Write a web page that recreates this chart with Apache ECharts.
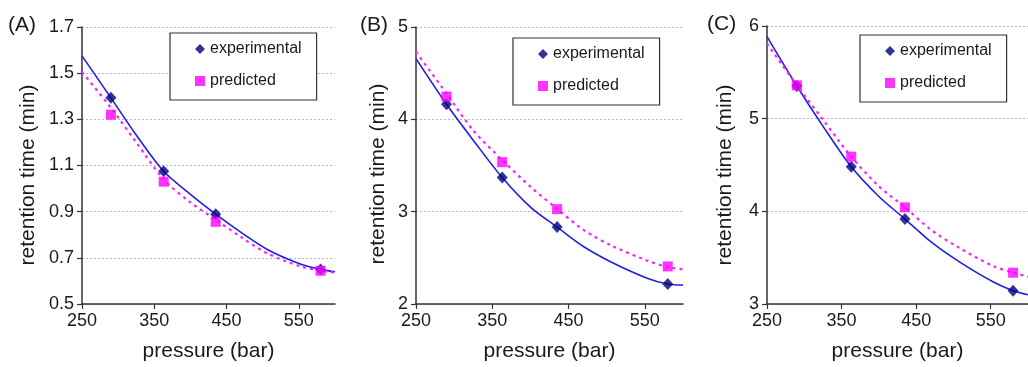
<!DOCTYPE html>
<html>
<head>
<meta charset="utf-8">
<script src="https://cdn.jsdelivr.net/npm/echarts@6/dist/echarts.min.js"></script>
<style>
html,body{margin:0;padding:0;background:#fff;}
#c{width:1028px;height:367px;}
</style>
</head>
<body>
<div id="c"></div>
<script>
// ---- data ----
const panelLabels = ['(A)', '(B)', '(C)'];
const xTitle = 'pressure (bar)';
const yTitle = 'retention time (min)';
const pressures = [290, 363, 435, 580];
const xTicks = [250, 350, 450, 550];

const expA = [1.393, 1.075, 0.889, 0.65];
const predA = [1.32, 1.03, 0.856, 0.644];
const fitX = [250, 290, 325, 363, 400, 435, 470, 507, 553, 580, 600];
const expFitA = [1.575, 1.393, 1.232, 1.075, 0.975, 0.889, 0.81, 0.735, 0.672, 0.65, 0.64];
const predFitA = [1.505, 1.35, 1.20, 1.04, 0.94, 0.865, 0.79, 0.718, 0.662, 0.645, 0.635];

const expB = [4.163, 3.37, 2.833, 2.216];
const predB = [4.246, 3.536, 3.027, 2.407];
const expFitB = [4.657, 4.163, 3.774, 3.37, 3.05, 2.833, 2.62, 2.45, 2.28, 2.216, 2.205];
const predFitB = [4.73, 4.28, 3.88, 3.56, 3.27, 3.03, 2.80, 2.63, 2.47, 2.40, 2.375];

const expC = [5.353, 4.48, 3.917, 3.144];
const predC = [5.36, 4.59, 4.043, 3.338];
const expFitC = [5.885, 5.353, 4.92, 4.48, 4.16, 3.917, 3.67, 3.46, 3.24, 3.144, 3.10];
const predFitC = [5.81, 5.36, 4.99, 4.59, 4.27, 4.043, 3.80, 3.61, 3.41, 3.34, 3.295];

const yRanges = [[0.5, 1.7, 0.2], [2, 5, 1], [3, 6, 1]];
const yDecimals = [1, 0, 0];

// ---- layout ----
const grids = [
  {left: 82, top: 27, width: 253, height: 277},
  {left: 416, top: 27, width: 267, height: 277},
  {left: 767, top: 26, width: 266, height: 278}
];
const legendPos = [[170, 33], [513, 38], [860, 35]];
const labelPos = [[23, 27], [375, 27], [722, 26]];
const yTitlePos = [[28, 175], [378, 174], [725, 175]];

const FONT = 'Liberation Sans, Arial, sans-serif';
const TXT = '#1a1a1a';

const zip = (xs, ys) => xs.map((x, i) => [x, ys[i]]);
const exps = [expA, expB, expC], preds = [predA, predB, predC];
const expFits = [expFitA, expFitB, expFitC], predFits = [predFitA, predFitB, predFitC];

const xAxis = [], yAxis = [], series = [], legend = [], graphic = [];
grids.forEach((g, i) => {
  xAxis.push({
    type: 'value', gridIndex: i, min: 250, max: 600,
    name: xTitle, nameLocation: 'middle', nameGap: 37,
    nameTextStyle: {fontFamily: FONT, fontSize: 21, color: TXT},
    axisLine: {lineStyle: {color: '#333', width: 1.5}},
    axisTick: {show: true, length: 5, lineStyle: {color: '#333', width: 1.2}, customValues: xTicks},
    axisLabel: {fontFamily: FONT, fontSize: 18, color: TXT, margin: 8, customValues: xTicks},
    splitLine: {show: false}
  });
  const [mn, mx, iv] = yRanges[i];
  yAxis.push({
    type: 'value', gridIndex: i, min: mn, max: mx, interval: iv,
    axisLine: {show: true, lineStyle: {color: '#333', width: 1.5}},
    axisTick: {show: true, length: 5, lineStyle: {color: '#333', width: 1.2}},
    axisLabel: {fontFamily: FONT, fontSize: 18, color: TXT, margin: 8,
      formatter: v => Number(v).toFixed(yDecimals[i])},
    splitLine: {show: true, lineStyle: {color: '#b8b8b8', type: [2, 2], width: 1}}
  });
  series.push({
    name: 'exp fit', type: 'line', xAxisIndex: i, yAxisIndex: i,
    data: zip(fitX, expFits[i]), smooth: 0.3, showSymbol: false, silent: true,
    lineStyle: {color: '#1f1fe6', width: 1.6}, z: 2
  });
  series.push({
    name: 'pred fit', type: 'line', xAxisIndex: i, yAxisIndex: i,
    data: zip(fitX, predFits[i]), smooth: 0.3, showSymbol: false, silent: true,
    lineStyle: {color: '#ff22ff', width: 2.2, type: [3, 4]}, z: 2
  });
  series.push({
    name: 'experimental', type: 'scatter', xAxisIndex: i, yAxisIndex: i,
    data: zip(pressures, exps[i]), symbol: 'diamond', symbolSize: [11, 12],
    itemStyle: {color: '#00007a'}, z: 3
  });
  series.push({
    name: 'predicted', type: 'scatter', xAxisIndex: i, yAxisIndex: i,
    data: zip(pressures, preds[i]), symbol: 'rect', symbolSize: 10,
    itemStyle: {color: '#ff00ff'}, z: 4
  });
  legend.push({
    data: ['experimental', 'predicted'], orient: 'vertical',
    left: legendPos[i][0], top: legendPos[i][1],
    padding: [8, 15, 11, 25], itemGap: 16, itemWidth: 10, itemHeight: 10,
    borderColor: '#333', borderWidth: 1.2, backgroundColor: '#fff',
    textStyle: {fontFamily: FONT, fontSize: 16, color: TXT, lineHeight: 16},
    selectedMode: false
  });
  graphic.push({
    type: 'text', left: labelPos[i][0] - 15, top: labelPos[i][1] - 12,
    style: {text: panelLabels[i], font: '21px ' + FONT, fill: TXT}
  });
  graphic.push({
    type: 'text', x: yTitlePos[i][0], y: yTitlePos[i][1], rotation: Math.PI / 2,
    style: {text: yTitle, font: '21px ' + FONT, fill: TXT, align: 'center', verticalAlign: 'middle'}
  });
});

const chart = echarts.init(document.getElementById('c'), null, {renderer: 'canvas'});
chart.setOption({
  animation: false,
  backgroundColor: '#fff',
  grid: grids.map(g => Object.assign({containLabel: false}, g)),
  xAxis, yAxis, series, legend, graphic
});
</script>
</body>
</html>
